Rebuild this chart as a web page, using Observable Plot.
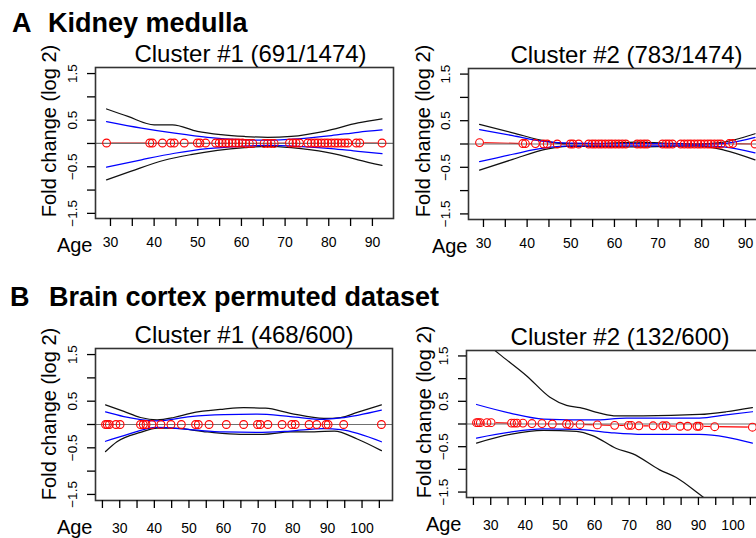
<!DOCTYPE html>
<html><head><meta charset="utf-8">
<script src="https://cdn.jsdelivr.net/npm/d3@7"></script>
<script src="https://cdn.jsdelivr.net/npm/@observablehq/plot@0.6"></script>
<style>
html,body{margin:0;padding:0;background:#fff;overflow:hidden}
#fig{position:relative;width:756px;height:538px;overflow:hidden;background:#fff;font-family:"Liberation Sans",Arial,Helvetica,sans-serif}
.head{position:absolute;font-weight:bold;font-size:27px;line-height:27px;white-space:nowrap;color:#000}
.panel{position:absolute}
.panel svg{max-width:none !important;display:block}
</style></head><body>
<div id="fig">
<div class="head" style="left:12px;top:10px">A</div>
<div class="head" style="left:48px;top:10px">Kidney medulla</div>
<div class="head" style="left:10px;top:284px">B</div>
<div class="head" style="left:49px;top:284px">Brain cortex permuted dataset</div>
</div>
<script>
// ---------- data ----------
const panelTitles = ["Cluster #1 (691/1474)", "Cluster #2 (783/1474)", "Cluster #1 (468/600)", "Cluster #2 (132/600)"];
const yTicks = [-1.5, -1, -0.5, 0, 0.5, 1, 1.5];
const yLabels = [-1.5, -0.5, 0.5, 1.5];
const kidneyXTicks = [30, 35, 40, 45, 50, 55, 60, 65, 70, 75, 80, 85, 90];
const brainXTicks = [25, 30, 35, 40, 45, 50, 55, 60, 65, 70, 75, 80, 85, 90, 95, 100, 105];

// sample ages (circles)
const kidneyAges = [29.1, 39.0, 39.6, 41.9, 43.8, 44.6, 46.9, 49.9, 50.5, 51.8, 54.1, 54.9, 55.6, 56.4, 57.1, 57.9, 58.7, 59.4, 60.2, 61.0, 61.8, 62.6, 65.2, 66.0, 66.8, 67.5, 71.0, 71.8, 72.5, 73.3, 75.2, 76.0, 76.8, 77.5, 78.3, 79.1, 79.8, 80.6, 81.4, 82.1, 82.9, 83.7, 84.4, 86.3, 87.1, 92.2];
const brainAges = [25.9, 26.4, 27.0, 28.9, 30.1, 36.0, 36.8, 37.6, 39.3, 41.9, 44.8, 47.8, 51.9, 52.7, 55.8, 60.8, 65.8, 69.8, 70.6, 72.8, 76.9, 79.7, 80.7, 84.7, 86.9, 89.6, 90.2, 94.7, 105.6];

// mean fold change (red)
const medullaRed1 = [0.01,0.01,0.01,0.01,0.01,0.01,0.01,0.01,0.01,0.01,0.01,0.01,0.01,0.01,0.01,0.01,0.01,0.01,0.01,0.0,0.0,0.0,0.0,0.0,0.0,0.0,0.01,0.01,0.01,0.01,0.01,0.01,0.01,0.01,0.01,0.01,0.01,0.01,0.01,0.01,0.01,0.01,0.01,0.01,0.01,0.01];
const medullaRed2 = [0.03,0.01,0.01,0.01,0.0,0.0,0.0,0.0,0.0,0.0,0.0,0.0,0.0,0.0,0.0,0.0,0.0,0.0,0.0,0.0,0.0,0.0,0.0,0.0,0.0,0.0,0.0,0.0,0.0,0.0,0.0,0.0,0.0,0.0,0.0,0.0,0.0,0.0,0.0,0.0,0.0,0.0,0.0,0.01,0.01,0.0];
const cortexRed1 = [0.0,0.0,0.0,0.0,0.0,0.0,0.0,0.0,0.0,0.0,0.0,0.0,0.0,0.0,0.0,0.0,0.0,0.0,0.0,0.0,0.0,0.0,0.0,0.0,0.0,0.0,0.0,0.0,0.0];
const cortexRed2 = [0.03,0.03,0.03,0.03,0.03,0.02,0.02,0.02,0.02,0.01,0.01,0.0,0.0,-0.01,-0.01,-0.02,-0.03,-0.03,-0.03,-0.04,-0.04,-0.04,-0.04,-0.05,-0.05,-0.05,-0.05,-0.06,-0.07];

// outer (black) and inner (blue) bands, [age, log2 fold change]
const medullaBlackUp1 = [[29.1,0.74],[34,0.58],[40,0.40],[44.2,0.40],[49.9,0.26],[55.3,0.19],[60.7,0.15],[66,0.13],[71.4,0.15],[79,0.26],[86.7,0.44],[92.2,0.53]];
const medullaBlackLo1 = [[29.1,-0.78],[34.6,-0.60],[42.3,-0.36],[48.4,-0.24],[54.5,-0.15],[60.7,-0.09],[66,-0.06],[71.4,-0.09],[76,-0.14],[82.1,-0.24],[86.7,-0.35],[92.2,-0.47]];
const medullaBlueUp1 = [[29.1,0.47],[37.1,0.33],[44.7,0.22],[52.2,0.13],[59.9,0.08],[66,0.07],[72.9,0.10],[80.6,0.17],[86.7,0.24],[92.2,0.29]];
const medullaBlueLo1 = [[29.1,-0.51],[37.1,-0.35],[44.7,-0.21],[52.2,-0.11],[59.9,-0.06],[66,-0.04],[72.9,-0.06],[80.6,-0.11],[86.7,-0.17],[92.2,-0.22]];

const medullaBlackUp2 = [[29.1,0.42],[36.7,0.24],[44.4,0.06],[48.2,0.01],[55.9,0.01],[65.1,0.04],[71.2,0.02],[78.9,0.0],[84.3,0.03],[92.2,0.22]];
const medullaBlackLo2 = [[29.1,-0.56],[36.7,-0.33],[44.4,-0.11],[49,-0.05],[56,-0.05],[65.1,-0.06],[72,-0.05],[78.9,-0.04],[85.1,-0.13],[92.2,-0.34]];
const medullaBlueUp2 = [[29.1,0.31],[36.7,0.18],[44.4,0.05],[50,0.02],[60,0.01],[70,0.01],[80,0.0],[85,0.01],[92.2,0.14]];
const medullaBlueLo2 = [[29.1,-0.38],[36.7,-0.22],[44.4,-0.08],[50,-0.04],[60,-0.04],[70,-0.04],[80,-0.04],[85,-0.06],[92.2,-0.19]];

const cortexBlackUp1 = [[25.9,0.42],[31.2,0.28],[36.0,0.15],[40.8,0.10],[45.6,0.15],[50.4,0.24],[60.1,0.33],[65.8,0.36],[72.1,0.35],[79.3,0.24],[89.0,0.13],[93.8,0.15],[98.6,0.26],[105.6,0.42]];
const cortexBlackLo1 = [[25.9,-0.58],[29.2,-0.37],[36.0,-0.17],[40.8,-0.08],[45.6,-0.08],[55.3,-0.16],[64.9,-0.21],[71.4,-0.21],[79.3,-0.16],[86.2,-0.16],[92.0,-0.14],[98.6,-0.31],[105.6,-0.56]];
const cortexBlueUp1 = [[25.9,0.27],[31.2,0.17],[40.8,0.08],[50.4,0.17],[60.1,0.21],[69.7,0.22],[79.3,0.17],[89.0,0.11],[93.8,0.14],[105.6,0.31]];
const cortexBlueLo1 = [[25.9,-0.36],[31.2,-0.24],[40.8,-0.06],[50.4,-0.11],[60.1,-0.16],[69.7,-0.17],[79.3,-0.14],[89.0,-0.09],[93.8,-0.11],[105.6,-0.37]];

const cortexBlackUp2 = [[25.9,1.95],[32.5,1.54],[40.4,1.06],[47.1,0.59],[51.9,0.41],[55.8,0.36],[61.5,0.24],[66.3,0.18],[74.0,0.18],[90.3,0.21],[98.0,0.27],[105.6,0.36]];
const cortexBlackLo2 = [[25.9,-0.42],[35.6,-0.23],[45.2,-0.14],[54.8,-0.16],[59.6,-0.26],[66.3,-0.54],[71.1,-0.66],[78.8,-1.01],[83.6,-1.18],[90.3,-1.55],[98.0,-2.0],[105.6,-2.4]];
const cortexBlueUp2 = [[25.9,0.43],[35.6,0.24],[45.2,0.11],[59.6,0.09],[69.2,0.13],[90.3,0.13],[98.0,0.20],[105.6,0.27]];
const cortexBlueLo2 = [[25.9,-0.31],[35.6,-0.18],[45.2,-0.11],[54.8,-0.12],[64.4,-0.19],[74.0,-0.23],[90.3,-0.23],[105.6,-0.42]];

// ---------- drawing ----------
const fmt = d => d < 0 ? "\u2212" + Math.abs(d) : String(d);

function panel(cfg) {
  const pts = cfg.ages.map((a, i) => ({age: a, v: cfg.red[i]}));
  const band = (arr, color) => Plot.line(arr, {x: d => d[0], y: d => d[1], stroke: color, strokeWidth: 1.25, curve: "monotone-x", clip: true});
  const svg = Plot.plot({
    width: cfg.width, height: cfg.height,
    marginLeft: cfg.mL, marginRight: cfg.mR, marginTop: cfg.mT, marginBottom: cfg.mB,
    x: {domain: cfg.xDomain},
    y: {domain: cfg.yDomain},
    style: {fontFamily: "'Liberation Sans', Arial, Helvetica, sans-serif", fontSize: "14px", background: "transparent", overflow: "visible", color: "#000", maxWidth: "none"},
    marks: [
      Plot.line(pts, {x: "age", y: "v", stroke: "red", strokeWidth: 1.2}),
      Plot.dot(pts, {x: "age", y: "v", r: 4.6, fill: "white"}),
      Plot.ruleY([0], {stroke: "#707070", strokeWidth: 1.2}),
      band(cfg.blackUp, "#111"),
      band(cfg.blackLo, "#111"),
      band(cfg.blueUp, "blue"),
      band(cfg.blueLo, "blue"),
      Plot.dot(pts, {x: "age", y: "v", r: 3.9, stroke: "red", strokeWidth: 1.1, fill: "none"}),
      Plot.frame({stroke: "#333", strokeWidth: 1.6}),
      Plot.axisX({ticks: cfg.xTicks, tickSize: 8, tickPadding: cfg.xPad, strokeWidth: 1.3, fontSize: 14, label: null,
        tickFormat: d => d % 10 === 0 ? String(d) : ""}),
      Plot.axisY({ticks: yTicks, tickSize: 8, tickRotate: -90, tickPadding: 11, strokeWidth: 1.3, fontSize: 13.5, label: null,
        tickFormat: d => yLabels.includes(d) ? fmt(d) : ""}),
      Plot.text([cfg.title], {frameAnchor: "top", textAnchor: "middle", lineAnchor: "middle", dx: cfg.titleDx, dy: -13, fontSize: 24, text: d => d}),
      Plot.text(["Fold change (log 2)"], {frameAnchor: "left", textAnchor: "middle", lineAnchor: "middle", rotate: -90, dx: cfg.foldDx, dy: cfg.foldDy, fontSize: 20, text: d => d}),
      Plot.text(["Age"], {frameAnchor: "bottom-left", textAnchor: "end", lineAnchor: "middle", dx: cfg.ageDx, dy: 26.6, fontSize: 20, text: d => d})
    ]
  });
  const wrap = document.createElement("div");
  wrap.className = "panel";
  wrap.style.left = cfg.left + "px";
  wrap.style.top = cfg.top + "px";
  wrap.style.width = cfg.width + "px";
  wrap.style.height = cfg.height + "px";
  wrap.appendChild(svg);
  document.getElementById("fig").appendChild(wrap);
}

panel({left: 0, top: 30, width: 400, height: 230, mL: 95, mR: 7, mT: 37, mB: 42,
  xDomain: [26.57, 94.83], yDomain: [-1.61, 1.63], xTicks: kidneyXTicks, xPad: 11,
  title: panelTitles[0], titleDx: 6, foldDx: -46.4, foldDy: -12, ageDx: -3,
  ages: kidneyAges, red: medullaRed1, blackUp: medullaBlackUp1, blackLo: medullaBlackLo1, blueUp: medullaBlueUp1, blueLo: medullaBlueLo1});

panel({left: 376, top: 30, width: 400, height: 230, mL: 92, mR: 10, mT: 38, mB: 41,
  xDomain: [26.57, 94.83], yDomain: [-1.62, 1.62], xTicks: kidneyXTicks, xPad: 11,
  title: panelTitles[1], titleDx: 9, foldDx: -45, foldDy: -13, ageDx: -1,
  ages: kidneyAges, red: medullaRed2, blackUp: medullaBlackUp2, blackLo: medullaBlackLo2, blueUp: medullaBlueUp2, blueLo: medullaBlueLo2});

panel({left: 0, top: 312, width: 400, height: 226, mL: 95, mR: 8, mT: 36, mB: 38,
  xDomain: [23.0, 108.8], yDomain: [-1.63, 1.63], xTicks: brainXTicks, xPad: 15,
  title: panelTitles[2], titleDx: 0, foldDx: -46.4, foldDy: -10.5, ageDx: -3,
  ages: brainAges, red: cortexRed1, blackUp: cortexBlackUp1, blackLo: cortexBlackLo1, blueUp: cortexBlueUp1, blueLo: cortexBlueLo1});

panel({left: 376, top: 312, width: 400, height: 226, mL: 90, mR: 13, mT: 38, mB: 41,
  xDomain: [23.0, 108.8], yDomain: [-1.62, 1.62], xTicks: brainXTicks, xPad: 15,
  title: panelTitles[3], titleDx: 5, foldDx: -42.4, foldDy: -12, ageDx: -5,
  ages: brainAges, red: cortexRed2, blackUp: cortexBlackUp2, blackLo: cortexBlackLo2, blueUp: cortexBlueUp2, blueLo: cortexBlueLo2});
</script>
</body></html>
